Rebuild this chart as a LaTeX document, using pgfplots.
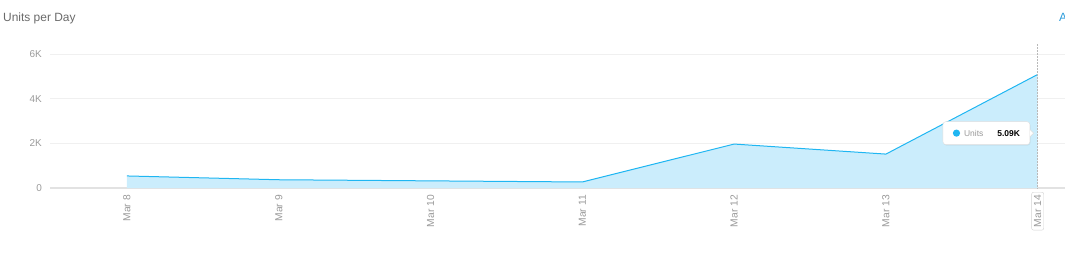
\documentclass[border=0pt]{standalone}
\usepackage{pgfplots}
\pgfplotsset{compat=1.18}
\usepackage{fontspec}
\setmainfont{Liberation Sans}
\usetikzlibrary{shadows}
\definecolor{areafill}{HTML}{CBEDFC}
\definecolor{lineblue}{HTML}{1FB6F2}
\definecolor{gridc}{HTML}{F0F0F0}
\definecolor{zeroc}{HTML}{E2E2E2}
\definecolor{tickc}{HTML}{9A9A9A}
\definecolor{titlec}{HTML}{6A6A6A}
\definecolor{linkc}{HTML}{2D9CDB}
\begin{document}
\begin{tikzpicture}[x=1bp,y=1bp]
\begin{axis}[
  at={(50bp,81bp)}, anchor=south west,
  scale only axis, width=1015bp, height=145bp,
  xmin=-0.507, xmax=6.18, ymin=0, ymax=6500,
  axis line style={draw=none},
  major tick length=0pt,
  xtick={0,1,2,3,4,5,6},
  xticklabels={Mar 8,Mar 9,Mar 10,Mar 11,Mar 12,Mar 13,{}},
  ytick={0,2000,4000,6000},
  yticklabels={0,2K,4K,6K},
  ymajorgrids, grid style={gridc, line width=0.8bp},
  x tick label style={rotate=90, anchor=east, inner xsep=7bp, inner ysep=0pt,
    font=\fontsize{10.3}{12}\selectfont, text=tickc},
  y tick label style={anchor=east, inner sep=0pt, xshift=-8bp,
    font=\fontsize{10}{12}\selectfont, text=tickc},
  clip=false,
]
\draw[zeroc, line width=1.2bp] (axis cs:-0.507,0) -- (axis cs:6.18,0);
\addplot[draw=none, fill=areafill] coordinates {
  (0,540) (1,370) (2,320) (3,270) (4,1970) (5,1520) (6,5090)
} \closedcycle;
\addplot[draw=lineblue, line width=1bp] coordinates {
  (0,540) (1,370) (2,320) (3,270) (4,1970) (5,1520) (6,5090)
};
\draw[densely dotted, gray!55, line width=0.5bp] (axis cs:6,0) -- (axis cs:6,6500);
\node[rotate=90, anchor=east, draw=gray!35, rounded corners=2bp, inner xsep=3bp,
  inner ysep=2.5bp, font=\fontsize{10.3}{12}\selectfont, text=tickc, fill=white]
  at ([yshift=-4bp]axis cs:6,0) {Mar 14};
\node[anchor=east, draw=gray!25, fill=white, rounded corners=3bp,
  drop shadow={opacity=0.12, shadow xshift=0.6bp, shadow yshift=-1bp},
  minimum width=87bp, minimum height=23bp, inner xsep=6bp,
  font=\fontsize{8.5}{10}\selectfont]
  (tip) at (axis cs:5.95,2460)
  {\tikz[baseline=-3bp]\fill[lineblue] (0,0) circle (3.6bp);\hspace{4bp}{\color{tickc}Units}\hspace{14bp}\textbf{5.09K}};
\fill[white] ([yshift=3.5bp]tip.east) -- ([xshift=3.5bp]tip.east) -- ([yshift=-3.5bp]tip.east) -- cycle;
\draw[gray!25] ([yshift=3.5bp]tip.east) -- ([xshift=3.5bp]tip.east) -- ([yshift=-3.5bp]tip.east);
\end{axis}
\node[anchor=base west, inner sep=0pt, font=\fontsize{12}{14}\selectfont, text=titlec] at (3bp,247bp) {Units per Day};
\node[anchor=base west, inner sep=0pt, font=\fontsize{12}{14}\selectfont, text=linkc] at (1059bp,247bp) {A};
\pgfresetboundingbox
\path[use as bounding box] (0,0) rectangle (1065bp,269bp);
\end{tikzpicture}
\end{document}
